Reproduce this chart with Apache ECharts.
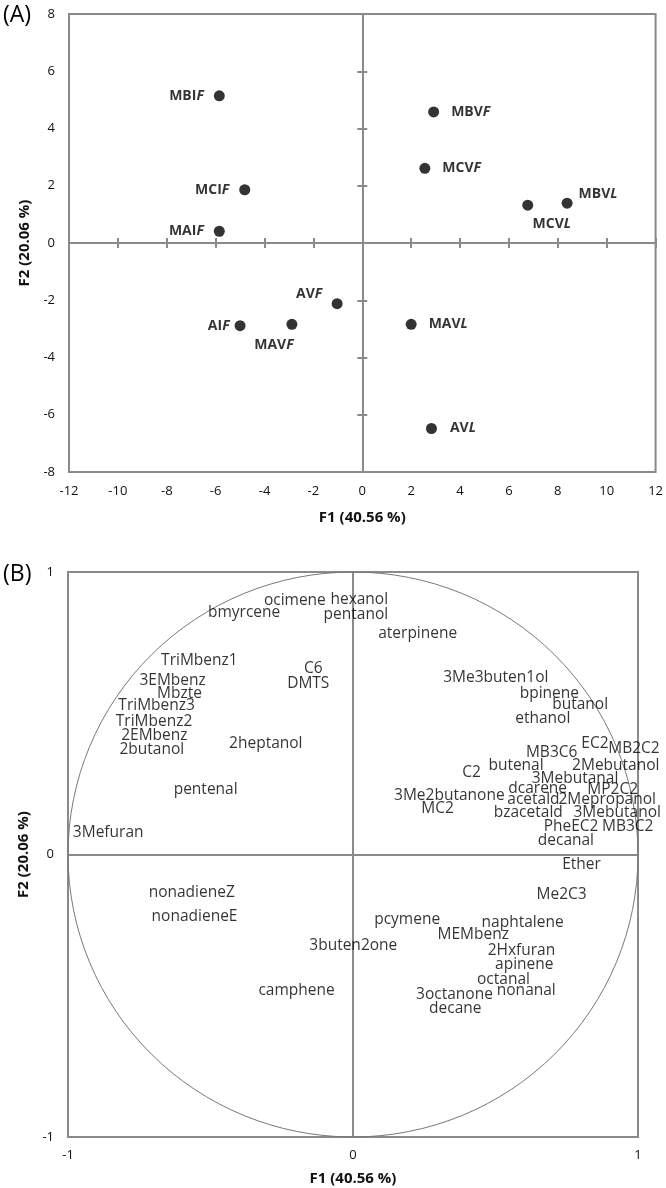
<!DOCTYPE html>
<html>
<head>
<meta charset="utf-8">
<script src="https://cdn.jsdelivr.net/npm/echarts@6/dist/echarts.min.js"></script>
<style>
  html, body { margin: 0; padding: 0; background: #fff; }
  #chart { width: 666px; height: 1188px; }
</style>
</head>
<body>
<div id="chart"></div>
<script>
// (A) scores of the samples
const sampleNames = ['MBIF', 'MBVF', 'MCVF', 'MCIF', 'MCVL', 'MBVL', 'MAIF', 'AVF', 'AIF', 'MAVF', 'MAVL', 'AVL']
const sampleF1 = [-5.85, 2.92, 2.56, -4.81, 6.77, 8.38, -5.85, -1.03, -5.0, -2.88, 2.0, 2.83]
const sampleF2 = [5.14, 4.58, 2.61, 1.86, 1.32, 1.39, 0.41, -2.12, -2.89, -2.84, -2.84, -6.48]

// (B) correlation circle of the variables
const varNames = [
  'ocimene', 'hexanol', 'bmyrcene', 'pentanol', 'aterpinene', 'TriMbenz1', 'C6', 'DMTS',
  '3Me3buten1ol', '3EMbenz', 'Mbzte', 'bpinene', 'TriMbenz3', 'butanol', 'TriMbenz2', 'ethanol',
  '2EMbenz', '2butanol', '2heptanol', 'MB3C6', 'EC2', 'MB2C2', '2Mebutanol', 'butenal',
  'C2', '3Mebutanal', 'PC2', 'dcarene', 'MP2C2', 'pentenal', '3Me2butanone', 'acetald',
  '2Mepropanol', 'MC2', 'bzacetald', '3Mebutanol', 'PheEC2', 'MB3C2', '3Mefuran', 'decanal',
  'Ether', 'nonadieneZ', 'Me2C3', 'nonadieneE', 'pcymene', 'naphtalene', 'MEMbenz', '3buten2one',
  '2Hxfuran', 'apinene', 'octanal', 'camphene', 'nonanal', '3octanone', 'decane'
]
const varF1 = [
  -0.204, 0.022, -0.382, 0.01, 0.227, -0.539, -0.139, -0.157,
  0.501, -0.633, -0.609, 0.689, -0.689, 0.797, -0.698, 0.666,
  -0.697, -0.706, -0.306, 0.697, 0.849, 0.986, 0.922, 0.572,
  0.416, 0.779, 1.028, 0.648, 0.911, -0.517, 0.338, 0.633,
  0.892, 0.297, 0.615, 0.927, 0.765, 0.964, -0.859, 0.747,
  0.802, -0.566, 0.732, -0.556, 0.19, 0.595, 0.422, 0.001,
  0.591, 0.601, 0.528, -0.198, 0.608, 0.356, 0.359
]
const varF2 = [
  0.898, 0.904, 0.856, 0.848, 0.783, 0.685, 0.659, 0.606,
  0.626, 0.615, 0.571, 0.571, 0.526, 0.53, 0.47, 0.482,
  0.421, 0.37, 0.394, 0.36, 0.394, 0.376, 0.314, 0.314,
  0.29, 0.27, 0.27, 0.234, 0.231, 0.231, 0.207, 0.195,
  0.195, 0.161, 0.149, 0.149, 0.098, 0.098, 0.077, 0.051,
  -0.034, -0.135, -0.141, -0.218, -0.232, -0.241, -0.285, -0.323,
  -0.34, -0.391, -0.441, -0.48, -0.482, -0.495, -0.544
]

const FONT = 'Open Sans'
const GREY = '#8a8a8a'

// where each sample label sits around its dot
const labelPlace = {
  MBIF: { position: 'left', distance: 10 },
  MBVF: { position: 'right', distance: 12 },
  MCVF: { position: 'right', distance: 12 },
  MCIF: { position: 'left', distance: 10 },
  MCVL: { position: 'inside', offset: [24, 19] },
  MBVL: { position: 'inside', offset: [31, -9] },
  MAIF: { position: 'left', distance: 10 },
  AVF: { position: 'inside', offset: [-28, -10] },
  AIF: { position: 'left', distance: 5 },
  MAVF: { position: 'inside', offset: [-18, 21] },
  MAVL: { position: 'right', distance: 12 },
  AVL: { position: 'right', distance: 13 }
}

const sampleData = sampleNames.map((n, i) => ({
  name: n,
  value: [sampleF1[i], sampleF2[i]],
  label: labelPlace[n]
}))
const varData = varNames.map((n, i) => ({ name: n, value: [varF1[i], varF2[i]] }))

const tickLabel = { fontFamily: FONT, fontSize: 13, color: '#111' }
const axisName = { fontFamily: FONT, fontSize: 15, fontWeight: 'bold', color: '#111' }
const zeroLine = { show: true, onZero: true, lineStyle: { color: GREY, width: 2 } }
const panelTitle = { fontFamily: FONT, fontSize: 23, fontWeight: 'normal', color: '#000' }

const option = {
  animation: false,
  backgroundColor: '#fff',
  title: [
    { text: '(A)', left: -2, top: -1, textStyle: panelTitle },
    { text: '(B)', left: -2, top: 558, textStyle: panelTitle }
  ],
  grid: [
    { left: 69, top: 14, width: 589, height: 458, show: true, borderColor: GREY, borderWidth: 2 },
    { left: 68, top: 572, width: 570, height: 565, show: true, borderColor: GREY, borderWidth: 2 }
  ],
  xAxis: [
    // A: labels along the bottom
    {
      gridIndex: 0, type: 'value', min: -12, max: 12, interval: 2, position: 'bottom',
      axisLine: { show: false, onZero: false }, axisTick: { show: false }, splitLine: { show: false },
      axisLabel: Object.assign({ margin: 13 }, tickLabel),
      name: 'F1 (40.56 %)', nameLocation: 'middle', nameGap: 38, nameTextStyle: axisName
    },
    // A: zero line, ticks crossing it
    {
      gridIndex: 0, type: 'value', min: -12, max: 12, interval: 2,
      axisLine: Object.assign({ onZeroAxisIndex: 0 }, zeroLine),
      axisTick: { show: true, inside: false, length: 5, lineStyle: { color: GREY, width: 2 } },
      axisLabel: { show: false }, splitLine: { show: false }
    },
    {
      gridIndex: 0, type: 'value', min: -12, max: 12, interval: 2,
      axisLine: Object.assign({ onZeroAxisIndex: 0 }, zeroLine),
      axisTick: { show: true, inside: true, length: 5, lineStyle: { color: GREY, width: 2 } },
      axisLabel: { show: false }, splitLine: { show: false }
    },
    // B
    {
      gridIndex: 1, type: 'value', min: -1, max: 1, interval: 1, position: 'bottom',
      axisLine: { show: false, onZero: false }, axisTick: { show: false }, splitLine: { show: false },
      axisLabel: Object.assign({ margin: 12 }, tickLabel),
      name: 'F1 (40.56 %)', nameLocation: 'middle', nameGap: 34, nameTextStyle: axisName
    },
    {
      gridIndex: 1, type: 'value', min: -1, max: 1, interval: 1,
      axisLine: Object.assign({ onZeroAxisIndex: 3 }, zeroLine),
      axisTick: { show: false }, axisLabel: { show: false }, splitLine: { show: false }
    }
  ],
  yAxis: [
    {
      gridIndex: 0, type: 'value', min: -8, max: 8, interval: 2, position: 'left',
      axisLine: { show: false, onZero: false }, axisTick: { show: false }, splitLine: { show: false },
      axisLabel: Object.assign({ margin: 14 }, tickLabel),
      name: 'F2 (20.06 %)', nameLocation: 'middle', nameGap: 33, nameTextStyle: axisName
    },
    {
      gridIndex: 0, type: 'value', min: -8, max: 8, interval: 2,
      axisLine: Object.assign({ onZeroAxisIndex: 0 }, zeroLine),
      axisTick: { show: true, inside: false, length: 5, lineStyle: { color: GREY, width: 2 } },
      axisLabel: { show: false }, splitLine: { show: false }
    },
    {
      gridIndex: 0, type: 'value', min: -8, max: 8, interval: 2,
      axisLine: Object.assign({ onZeroAxisIndex: 0 }, zeroLine),
      axisTick: { show: true, inside: true, length: 5, lineStyle: { color: GREY, width: 2 } },
      axisLabel: { show: false }, splitLine: { show: false }
    },
    {
      gridIndex: 1, type: 'value', min: -1, max: 1, interval: 1, position: 'left',
      axisLine: { show: false, onZero: false }, axisTick: { show: false }, splitLine: { show: false },
      axisLabel: Object.assign({ margin: 14 }, tickLabel),
      name: 'F2 (20.06 %)', nameLocation: 'middle', nameGap: 32, nameTextStyle: axisName
    },
    {
      gridIndex: 1, type: 'value', min: -1, max: 1, interval: 1,
      axisLine: Object.assign({ onZeroAxisIndex: 3 }, zeroLine),
      axisTick: { show: false }, axisLabel: { show: false }, splitLine: { show: false }
    }
  ],
  series: [
    {
      name: 'samples',
      type: 'scatter',
      xAxisIndex: 0,
      yAxisIndex: 0,
      symbolSize: 11,
      itemStyle: { color: '#000' },
      label: {
        show: true,
        formatter: p => '{b|' + p.name.slice(0, -1) + '}{i|' + p.name.slice(-1) + '}',
        rich: {
          b: { fontFamily: FONT, fontSize: 14, fontWeight: 'bold', color: '#000' },
          i: { fontFamily: FONT, fontSize: 14, fontWeight: 'bold', fontStyle: 'italic', color: '#000' }
        }
      },
      data: sampleData
    },
    {
      name: 'variables',
      type: 'scatter',
      xAxisIndex: 3,
      yAxisIndex: 3,
      symbolSize: 1,
      itemStyle: { color: 'transparent' },
      label: {
        show: true,
        position: 'inside',
        formatter: '{b}',
        fontFamily: FONT,
        fontSize: 15.5,
        color: '#000'
      },
      labelLayout: { hideOverlap: false },
      data: varData
    }
  ]
}

const chart = echarts.init(document.getElementById('chart'))
chart.setOption(option)

// correlation circle of radius 1, placed through the B axes
const c = chart.convertToPixel({ xAxisIndex: 3, yAxisIndex: 3 }, [0, 0])
const ex = chart.convertToPixel({ xAxisIndex: 3, yAxisIndex: 3 }, [1, 0])
const ey = chart.convertToPixel({ xAxisIndex: 3, yAxisIndex: 3 }, [0, 1])
const rx = ex[0] - c[0]
const ry = c[1] - ey[1]
chart.setOption({
  graphic: [{
    type: 'circle',
    x: c[0],
    y: c[1],
    scaleY: ry / rx,
    shape: { cx: 0, cy: 0, r: rx },
    style: { fill: 'none', stroke: '#777', lineWidth: 1 },
    silent: true,
    z: 1
  }]
})
</script>
</body>
</html>
